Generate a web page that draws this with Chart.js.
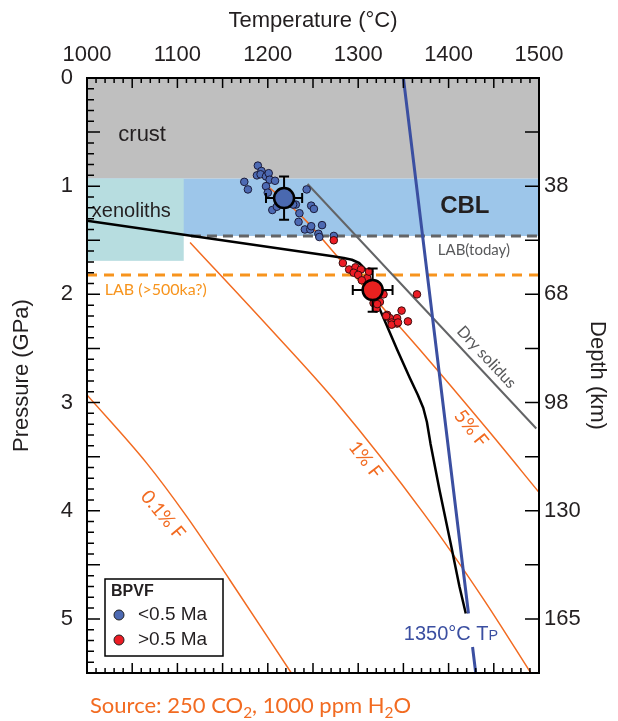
<!DOCTYPE html>
<html>
<head>
<meta charset="utf-8">
<script src="https://cdn.jsdelivr.net/npm/chart.js@4.4.1/dist/chart.umd.min.js"></script>
<style>
  html, body { margin: 0; padding: 0; background: #fff; }
  canvas { display: block; }
</style>
</head>
<body>
<canvas id="chart" width="618" height="721"></canvas>
<script>
// tick labels
const tempTicks = [1000, 1100, 1200, 1300, 1400, 1500];
const pressureTicks = [0, 1, 2, 3, 4, 5];
const depthTickPressures = [1, 2, 3, 4, 5];
const depthTicks = [38, 68, 98, 130, 165];

// layers (pressure in GPa, temperature in °C)
const crustBase = 0.93;
const cblBase = 1.46;
const xenolithT = [1000, 1107];
const xenolithP = [0.93, 1.69];
const labToday = [[1115, 1.46], [1500, 1.46]];
const labOld = [[1000, 1.82], [1500, 1.82]];

// curves [T, P]
const geotherm = [[1000, 1.32], [1272, 1.648], [1284, 1.663], [1293, 1.68], [1301, 1.71], [1307, 1.76],
  [1312, 1.83], [1316, 1.92], [1322, 2.10], [1343, 2.51], [1357, 2.77], [1366, 2.93], [1372, 3.05],
  [1376, 3.18], [1380, 3.38], [1390, 3.81], [1403, 4.33], [1412, 4.70], [1419, 4.95]];
const adiabat1350 = [[1350, 0], [1422, 4.95], [1424, null], [1426.5, 5.26], [1430, 5.5]];
const drySolidus = [[1244, 0.98], [1497, 3.24]];
const melt5 = [[1196, 0.97], [1240, 1.30], [1280, 1.68], [1330, 2.15], [1368, 2.51],
  [1443, 3.25], [1500, 3.83]];
const melt1 = [[1114, 1.52], [1204, 2.33], [1276, 3.00], [1372, 4.02], [1438, 4.81], [1491, 5.5]];
const melt01 = [[1000, 2.93], [1066, 3.56], [1110, 4.05], [1158, 4.64], [1226, 5.5]];

// BPVF samples [T, P]
const young = [[1189, 0.81], [1193, 0.86], [1188, 0.90], [1192, 0.89], [1198, 0.91], [1201, 0.88],
  [1202, 0.94], [1208, 0.95], [1198, 1.00], [1174, 0.96], [1178, 1.03], [1243, 1.03], [1231, 1.17],
  [1248, 1.18], [1251, 1.21], [1205, 1.22], [1210, 1.19], [1235, 1.25], [1234, 1.33], [1241, 1.40],
  [1247, 1.40], [1248, 1.37], [1260, 1.36], [1256, 1.44], [1257, 1.47], [1273, 1.46], [1228, 1.17],
  [1200, 1.06]];
const old = [[1273, 1.50], [1283, 1.71], [1290, 1.77], [1297, 1.75], [1303, 1.77], [1295, 1.80],
  [1300, 1.82], [1310, 1.85], [1312, 1.79], [1304, 1.87], [1317, 2.08], [1320, 2.13], [1365, 2.00],
  [1328, 2.00], [1324, 2.07], [1321, 2.09], [1332, 2.19], [1335, 2.22], [1343, 2.22], [1348, 2.15],
  [1355, 2.25], [1343, 2.27], [1337, 2.26], [1315, 2.02], [1331, 2.20], [1337, 2.28], [1344, 2.26]];
const youngMean = [1218, 1.11];
const youngErr = [20, 0.2];
const oldMean = [1316, 1.96];
const oldErr = [22, 0.2];

const xy = arr => arr.map(([t, p]) => ({ x: t, y: p }));
const ink = '#231f20';
const sans = 'Liberation Sans, Arial, sans-serif';
const myriad = 'Lato, Open Sans, sans-serif';

function line(data, color, width, order, dash, smooth) {
  return {
    data: xy(data), showLine: true, borderColor: color, borderWidth: width, borderDash: dash || [],
    pointRadius: 0, fill: false, order: order, spanGaps: false, borderJoinStyle: 'round',
    cubicInterpolationMode: smooth ? 'monotone' : 'default', tension: 0
  };
}

const datasets = [
  line(melt01, '#f26b21', 1.5, 20, null, true),
  line(melt1, '#f26b21', 1.5, 20, null, true),
  line(melt5, '#f26b21', 1.5, 20, null, true),
  line(labToday, '#636466', 3, 18, [10, 6]),
  line(labOld, '#f7941d', 3, 18, [10, 7]),
  line(drySolidus, '#636466', 2, 17),
  line(geotherm, '#000000', 2.5, 16),
  line(adiabat1350, '#3b4fa1', 3, 15),
  { data: xy(young), pointRadius: 3.8, pointBackgroundColor: '#4d6ab3', pointBorderColor: '#1b1b3a', pointBorderWidth: 1, order: 6 },
  { data: xy(old), pointRadius: 3.8, pointBackgroundColor: '#ec1c24', pointBorderColor: '#3a0d0d', pointBorderWidth: 1, order: 5 },
  { data: xy([youngMean]), pointRadius: 10, pointBackgroundColor: '#4a69b0', pointBorderColor: '#000', pointBorderWidth: 2.5, order: 2, errs: youngErr },
  { data: xy([oldMean]), pointRadius: 10, pointBackgroundColor: '#e8211f', pointBorderColor: '#000', pointBorderWidth: 2.5, order: 1, errs: oldErr }
];

// background layers
const bands = {
  id: 'bands',
  beforeDatasetsDraw(chart) {
    const { ctx, scales: { x, y }, chartArea: a } = chart;
    ctx.save();
    ctx.fillStyle = '#bfbfbf';
    ctx.fillRect(a.left, y.getPixelForValue(0), a.width, y.getPixelForValue(crustBase) - y.getPixelForValue(0));
    ctx.fillStyle = '#9dc6ea';
    ctx.fillRect(a.left, y.getPixelForValue(crustBase), a.width, y.getPixelForValue(cblBase) - y.getPixelForValue(crustBase));
    ctx.fillStyle = '#b7dde0';
    const x0 = x.getPixelForValue(xenolithT[0]), x1 = x.getPixelForValue(xenolithT[1]);
    const y0 = y.getPixelForValue(xenolithP[0]), y1 = y.getPixelForValue(xenolithP[1]);
    ctx.fillRect(x0, y0, x1 - x0, y1 - y0);
    ctx.restore();
  },
  // error bars go under the mean markers
  beforeDatasetDraw(chart, args) {
    const ds = chart.data.datasets[args.index];
    if (!ds.errs) return;
    const { ctx, scales: { x, y } } = chart;
    const p = ds.data[0];
    const cx = x.getPixelForValue(p.x), cy = y.getPixelForValue(p.y);
    const xl = x.getPixelForValue(p.x - ds.errs[0]), xr = x.getPixelForValue(p.x + ds.errs[0]);
    const yt = y.getPixelForValue(p.y - ds.errs[1]), yb = y.getPixelForValue(p.y + ds.errs[1]);
    ctx.save();
    ctx.strokeStyle = '#000';
    ctx.lineWidth = 2;
    ctx.beginPath();
    ctx.moveTo(xl, cy); ctx.lineTo(xr, cy);
    ctx.moveTo(cx, yt); ctx.lineTo(cx, yb);
    ctx.moveTo(xl, cy - 5); ctx.lineTo(xl, cy + 5);
    ctx.moveTo(xr, cy - 5); ctx.lineTo(xr, cy + 5);
    ctx.moveTo(cx - 5, yt); ctx.lineTo(cx + 5, yt);
    ctx.moveTo(cx - 5, yb); ctx.lineTo(cx + 5, yb);
    ctx.stroke();
    ctx.restore();
  }
};

function label(ctx, x, y, text, t, p, font, color, angle) {
  ctx.save();
  ctx.translate(x.getPixelForValue(t), y.getPixelForValue(p));
  ctx.rotate((angle || 0) * Math.PI / 180);
  ctx.font = font;
  ctx.fillStyle = color;
  ctx.textAlign = 'center';
  ctx.textBaseline = 'middle';
  ctx.fillText(text, 0, 0);
  ctx.restore();
}

// text run with small parts: parts = [[text, scale, drop], ...]
function runText(ctx, parts, x0, y0, size, family, color) {
  ctx.save();
  ctx.fillStyle = color;
  ctx.textBaseline = 'alphabetic';
  let cx = x0;
  parts.forEach(([s, k, drop]) => {
    ctx.font = (size * k) + 'px ' + family;
    ctx.fillText(s, cx, y0 + size * drop);
    cx += ctx.measureText(s).width;
  });
  ctx.restore();
}

const overlay = {
  id: 'overlay',
  afterDraw(chart) {
    const { ctx, scales: { x, y }, chartArea: a } = chart;

    label(ctx, x, y, 'crust', 1061, 0.53, '22px ' + sans, ink);
    label(ctx, x, y, 'CBL', 1418, 1.19, 'bold 24px ' + sans, ink);
    label(ctx, x, y, 'xenoliths', 1049, 1.235, '20px ' + sans, ink);
    label(ctx, x, y, 'LAB(today)', 1428, 1.59, '15px ' + myriad, '#58595b');
    label(ctx, x, y, 'LAB (>500ka?)', 1076, 1.96, '16px ' + myriad, '#f7941d');
    label(ctx, x, y, 'Dry solidus', 1442, 2.58, '16px ' + myriad, '#58595b', 47);
    label(ctx, x, y, '5% F', 1425, 3.24, '19px ' + myriad, '#f26b21', 51);
    label(ctx, x, y, '1% F', 1308, 3.53, '19px ' + myriad, '#f26b21', 52);
    label(ctx, x, y, '0.1% F', 1084, 4.04, '19px ' + myriad, '#f26b21', 50);
    runText(ctx, [['1350°C T', 1, 0], ['P', 0.72, 0]], x.getPixelForValue(1350.5), y.getPixelForValue(5.13) + 7, 20, sans, '#3b4fa1');

    // legend box
    ctx.save();
    const lx = a.left + 18, ly = a.bottom - 94;
    ctx.fillStyle = '#fff';
    ctx.fillRect(lx, ly, 118, 77);
    ctx.strokeStyle = '#000';
    ctx.lineWidth = 1.5;
    ctx.strokeRect(lx, ly, 118, 77);
    ctx.fillStyle = ink;
    ctx.font = 'bold 16px ' + sans;
    ctx.textBaseline = 'middle';
    ctx.fillText('BPVF', lx + 6, ly + 13);
    ctx.font = '19px ' + sans;
    ctx.fillText('<0.5 Ma', lx + 33, ly + 36);
    ctx.fillText('>0.5 Ma', lx + 33, ly + 61);
    [['#4d6ab3', 36], ['#ec1c24', 61]].forEach(([c, dy]) => {
      ctx.beginPath();
      ctx.arc(lx + 14, ly + dy, 5, 0, Math.PI * 2);
      ctx.fillStyle = c; ctx.fill();
      ctx.lineWidth = 1; ctx.strokeStyle = '#222'; ctx.stroke();
    });
    ctx.restore();

    // frame and inward ticks
    ctx.save();
    ctx.strokeStyle = '#000';
    ctx.lineWidth = 2;
    ctx.strokeRect(a.left, a.top, a.width, a.height);
    ctx.lineWidth = 1.5;
    ctx.beginPath();
    for (let t = 1000; t <= 1500; t += 10) {
      const px = x.getPixelForValue(t);
      const len = t % 50 === 0 ? 10 : 5;
      ctx.moveTo(px, a.top); ctx.lineTo(px, a.top + len);
      ctx.moveTo(px, a.bottom); ctx.lineTo(px, a.bottom - len);
    }
    for (let i = 0; i <= 55; i++) {
      const py = y.getPixelForValue(i / 10);
      const len = i % 5 === 0 ? 13 : 7;
      ctx.moveTo(a.left, py); ctx.lineTo(a.left + len, py);
      if (i % 5 === 0) { ctx.moveTo(a.right, py); ctx.lineTo(a.right - 14, py); }
    }
    ctx.stroke();
    ctx.restore();

    runText(ctx, [['Source: 250 CO', 1, 0], ['2', 0.7, 0.22], [', 1000 ppm H', 1, 0], ['2', 0.7, 0.22], ['O', 1, 0]],
      90, 713, 22, myriad, '#f26b21');
  }
};

const tickFont = { family: sans, size: 22 };
const titleFont = { family: sans, size: 22 };

new Chart(document.getElementById('chart'), {
  type: 'scatter',
  data: { datasets: datasets },
  options: {
    responsive: false,
    animation: false,
    layout: { padding: { top: 0, left: 0, right: 0, bottom: 48 } },
    plugins: { legend: { display: false }, tooltip: { enabled: false } },
    scales: {
      x: {
        type: 'linear', position: 'top', min: 1000, max: 1500,
        afterBuildTicks: s => { s.ticks = tempTicks.map(v => ({ value: v })); },
        afterFit: s => { s.height = 78; },
        grid: { display: false, drawTicks: false }, border: { display: false },
        ticks: { font: tickFont, color: ink, padding: 10, maxRotation: 0, callback: v => String(v) },
        title: { display: true, text: 'Temperature (°C)', font: titleFont, color: ink, padding: { top: 8, bottom: 0 } }
      },
      y: {
        type: 'linear', position: 'left', reverse: true, min: 0, max: 5.5,
        afterBuildTicks: s => { s.ticks = pressureTicks.map(v => ({ value: v })); },
        afterFit: s => { s.width = 87; },
        grid: { display: false, drawTicks: false }, border: { display: false },
        ticks: { font: tickFont, color: ink, padding: 14 },
        title: { display: true, text: 'Pressure (GPa)', font: titleFont, color: ink, padding: { top: 9, bottom: 0 } }
      },
      y2: {
        type: 'linear', position: 'right', reverse: true, min: 0, max: 5.5,
        afterBuildTicks: s => { s.ticks = depthTickPressures.map(v => ({ value: v })); },
        afterFit: s => { s.width = 79; },
        grid: { display: false, drawTicks: false }, border: { display: false },
        ticks: { font: tickFont, color: ink, padding: 5, callback: v => depthTicks[depthTickPressures.indexOf(v)] },
        title: { display: true, text: 'Depth (km)', font: titleFont, color: ink, padding: { top: 8, bottom: 0 } }
      }
    }
  },
  plugins: [bands, overlay]
});
</script>
</body>
</html>
